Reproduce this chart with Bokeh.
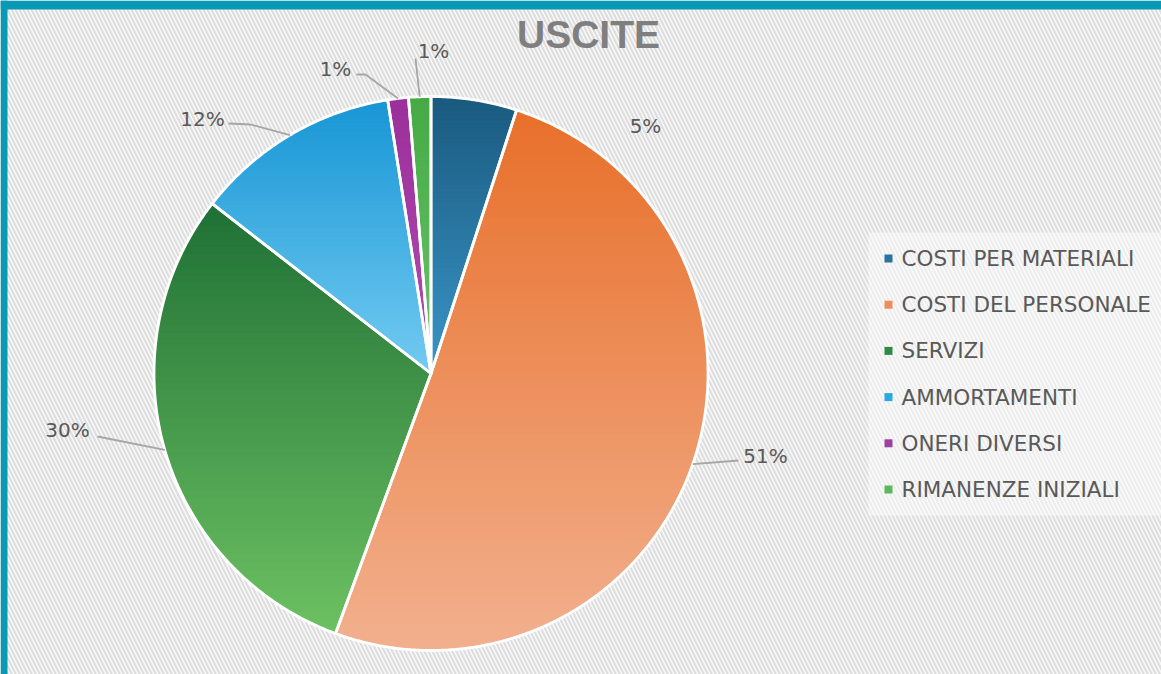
import numpy as np
from bokeh.plotting import figure
from bokeh.models import Range1d
from bokeh.core.properties import value
from bokeh.embed import file_html
from bokeh.resources import INLINE

# ---------------- data ----------------
title_text = "USCITE"
categories = ["COSTI PER MATERIALI", "COSTI DEL PERSONALE", "SERVIZI",
              "AMMORTAMENTI", "ONERI DIVERSI", "RIMANENZE INIZIALI"]
shares = [5.0, 50.6, 29.9, 12.0, 1.2, 1.3]

top_colors = ["#1a5a7e", "#e86f2a", "#1f7035", "#1796d4", "#9b2f9b", "#45aa45"]
bottom_colors = ["#3a95c8", "#f2b08e", "#6dc162", "#73cbf2", "#b24db2", "#6cc46c"]
legend_colors = ["#2a72a0", "#f08c5a", "#2e8b45", "#2aa8e0", "#a040a0", "#5cb85c"]

# ---------------- layout / style ----------------
W, H = 1161, 674
CX, CY, R = 430.5, 373.0, 277.0
FONT = "DejaVu Sans"
TEXT_COLOR = "#595959"
FRAME_COLOR = "#0799b5"

label_pos = [(645, 125), (765, 455), (67, 429), (202, 118), (335, 68), (433, 50)]
leader_start = [None, [(738, 460)], [(97, 436)], [(228, 123), (250, 124)],
                [(356, 74), (365, 74)], [(415, 58)]]

p = figure(width=W, height=H, output_backend="svg", toolbar_location=None,
           x_range=Range1d(0, W), y_range=Range1d(H, 0),
           x_axis_type=None, y_axis_type=None, min_border=0,
           outline_line_color=None)
p.grid.visible = False
p.background_fill_color = "#f8f8f8"
p.border_fill_color = "#f8f8f8"

# hatched background
p.quad(left=[0], right=[W], top=[0], bottom=[H],
       fill_color="#fafafa", hatch_pattern="\\", hatch_color="#dedede",
       hatch_scale=8, hatch_weight=2.2, line_color=None)

# teal frame (top and left)
p.quad(left=[0, 0], right=[W, 7], top=[0, 0], bottom=[9, H],
       fill_color=FRAME_COLOR, line_color=None)


def hex2rgb(h):
    h = h.lstrip("#")
    return np.array([int(h[i:i + 2], 16) for i in (0, 2, 4)], dtype=float)


def rgb2hex(c):
    c = np.clip(np.round(c), 0, 255).astype(int)
    return "#%02x%02x%02x" % tuple(c)


def clip_poly(pts, y0, y1):
    def clip(pts, inside, yb):
        out = []
        n = len(pts)
        for i in range(n):
            cur, prev = pts[i], pts[i - 1]
            if inside(cur):
                if not inside(prev):
                    t = (yb - prev[1]) / (cur[1] - prev[1])
                    out.append((prev[0] + t * (cur[0] - prev[0]), yb))
                out.append(cur)
            elif inside(prev):
                t = (yb - prev[1]) / (cur[1] - prev[1])
                out.append((prev[0] + t * (cur[0] - prev[0]), yb))
        return out
    pts = clip(pts, lambda q: q[1] >= y0, y0)
    if pts:
        pts = clip(pts, lambda q: q[1] <= y1, y1)
    return pts


total = float(sum(shares))
cum = np.concatenate([[0.0], np.cumsum(shares)]) / total
slice_polys = []
for i in range(len(shares)):
    a0, a1 = cum[i] * 2 * np.pi, cum[i + 1] * 2 * np.pi
    n = max(8, int((a1 - a0) * 120))
    ang = np.linspace(a0, a1, n)
    xs = [CX] + list(CX + R * np.sin(ang))
    ys = [CY] + list(CY - R * np.cos(ang))
    slice_polys.append((xs, ys))

band_xs, band_ys, band_cols = [], [], []
NB = 60
for i, (xs, ys) in enumerate(slice_polys):
    pts = list(zip(xs, ys))
    ymin, ymax = min(ys), max(ys)
    c0, c1 = hex2rgb(top_colors[i]), hex2rgb(bottom_colors[i])
    edges = np.linspace(ymin, ymax, NB + 1)
    for b in range(NB):
        seg = clip_poly(pts, edges[b] - 0.4, edges[b + 1] + 0.4)
        if len(seg) < 3:
            continue
        t = (b + 0.5) / NB
        band_xs.append([q[0] for q in seg])
        band_ys.append([q[1] for q in seg])
        band_cols.append(rgb2hex(c0 + (c1 - c0) * t))

p.patches(xs=band_xs, ys=band_ys, fill_color=band_cols, line_color=band_cols,
          line_width=0.8)

p.patches(xs=[s[0] for s in slice_polys], ys=[s[1] for s in slice_polys],
          fill_color=None, line_color="white", line_width=2.8,
          line_join="round")

lx, ly = [], []
for i in range(len(shares)):
    if leader_start[i] is None:
        continue
    mid = (cum[i] + cum[i + 1]) / 2 * 2 * np.pi
    ex, ey = CX + R * np.sin(mid), CY - R * np.cos(mid)
    pts = leader_start[i] + [(ex, ey)]
    lx.append([q[0] for q in pts])
    ly.append([q[1] for q in pts])
p.multi_line(xs=lx, ys=ly, line_color="#a6a6a6", line_width=1.8)

p.text(x=[q[0] for q in label_pos], y=[q[1] for q in label_pos],
       text=["%d%%" % round(v / total * 100) for v in shares],
       text_font=value(FONT), text_font_size="20px", text_color=TEXT_COLOR,
       text_align="center", text_baseline="middle")

p.text(x=[588], y=[34], text=[title_text], text_font=value("Liberation Sans"),
       text_font_style="bold", text_font_size="39px", text_color="#7f7f7f",
       text_align="center", text_baseline="middle")

p.quad(left=[868], right=[W], top=[232], bottom=[515],
       fill_color="white", fill_alpha=0.45, line_color=None)
leg_y = [258 + 46.2 * k for k in range(len(categories))]
p.scatter(x=[888] * len(categories), y=leg_y, marker="square", size=8,
          fill_color=legend_colors, line_color=None)
p.text(x=[901] * len(categories), y=leg_y, text=categories,
       text_font=value(FONT), text_font_size="21.5px", text_color=TEXT_COLOR,
       text_align="left", text_baseline="middle")

open("out.html", "w").write(file_html(p, INLINE))
